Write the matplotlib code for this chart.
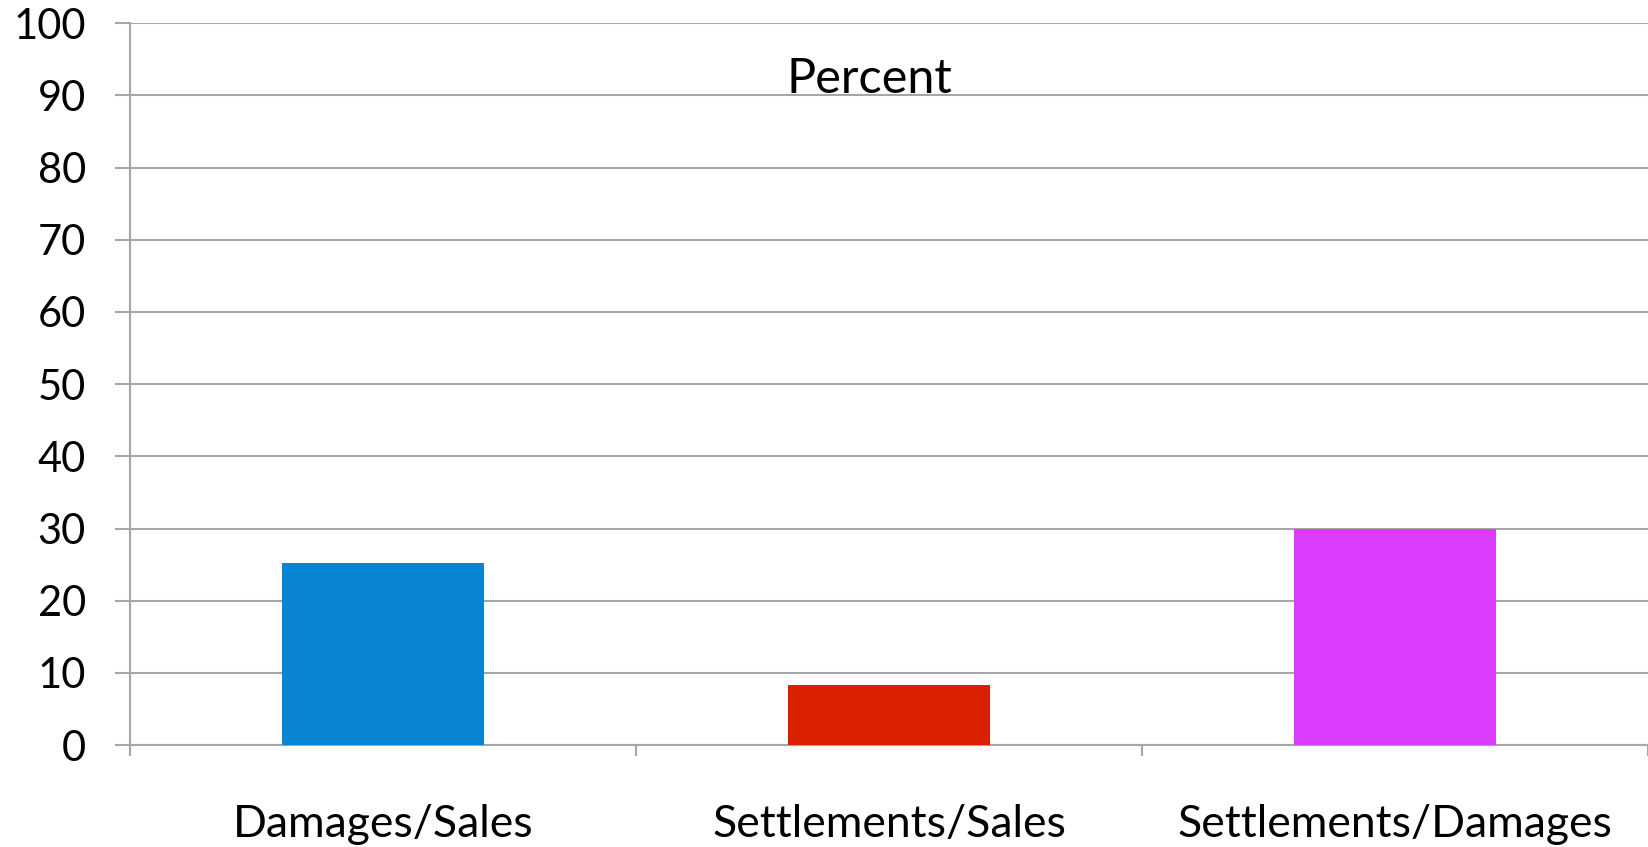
import numpy as np
import matplotlib.pyplot as plt

categories = ["Damages/Sales", "Settlements/Sales", "Settlements/Damages"]
values = [25.2, 8.3, 30.0]
colors = ["#0784d2", "#d92000", "#d93cfc"]
yticks = [0, 10, 20, 30, 40, 50, 60, 70, 80, 90, 100]

plt.rcParams['font.family'] = ['Lato', 'DejaVu Sans']
grid_col = "#a6a6a6"

fig = plt.figure(figsize=(16.48, 8.47), dpi=100)
ax = fig.add_axes([0.0791, 0.1202, 0.9209, 0.8525])

x = np.arange(len(categories))
ax.bar(x, values, width=0.4, color=colors, zorder=3)

ax.set_xlim(-0.5, 2.5)
ax.set_ylim(0, 100)
ax.set_yticks(yticks)
ax.set_yticklabels([str(v) for v in yticks])
ax.yaxis.grid(True, color=grid_col, linewidth=1.5, zorder=0)
ax.tick_params(axis='y', length=11, width=1.5, color=grid_col, pad=21, labelsize=30)

ax.set_xticks(x)
ax.set_xticklabels(categories)
ax.tick_params(axis='x', which='major', length=0, pad=42, labelsize=32)
ax.set_xticks(np.arange(-0.5, 3.0, 1.0), minor=True)
ax.tick_params(axis='x', which='minor', length=8, width=1.5, color=grid_col)

for s in ['top', 'right']:
    ax.spines[s].set_visible(False)
for s in ['left', 'bottom']:
    ax.spines[s].set_color(grid_col)
    ax.spines[s].set_linewidth(1.5)

ax.text(0.96, 92.3, "Percent", fontsize=35, ha='center', va='center')

fig.savefig("out.png", dpi=100)
